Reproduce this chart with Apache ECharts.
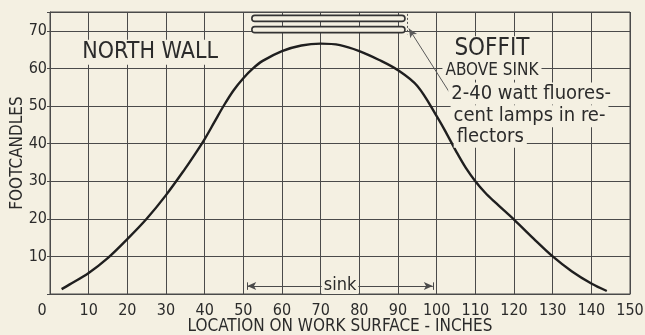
<!DOCTYPE html>
<html>
<head>
<meta charset="utf-8">
<script src="https://cdn.jsdelivr.net/npm/echarts@6/dist/echarts.min.js"></script>
<style>
  html, body { margin: 0; padding: 0; background: #f4f0e2; }
  #chart { width: 645px; height: 335px; }
</style>
</head>
<body>
<div id="chart"></div>
<script>
// Illumination along the work surface (inches from the north wall)
const positions = [3, 5, 10, 15, 20, 25, 30, 35, 37.5, 40, 42.5, 45, 47.5, 50, 52.5, 55, 60, 65, 70, 75, 80, 85, 90, 95, 100, 102.5, 105, 107.5, 110, 112.5, 115, 120, 125, 130, 135, 140, 144];
const footcandles = [1.3, 2.5, 5.6, 9.6, 14.6, 20, 26.3, 33.4, 37.2, 41.2, 45.7, 50.2, 54.2, 57.4, 60, 62, 64.6, 66.1, 66.6, 66.2, 64.6, 62.3, 59.5, 55.3, 47.3, 42.8, 38, 33.6, 30, 27, 24.5, 19.8, 14.8, 10, 6, 2.8, 0.8];

// Axis ranges and tick step
const xRange = [0, 150];
const yRange = [0, 75];
const tickStep = 10;

// Sink extent (inches) and the two lamp tubes (start, end, height on the footcandle scale)
const sinkSpan = [51, 99];
const sinkLevel = 2.1;
const lampStart = [52.2, 52.2];
const lampEnd = [91.8, 91.8];
const lampLevel = [73.3, 70.3];

// Text notes placed in data coordinates
const noteTexts = ['NORTH WALL', 'SOFFIT', 'ABOVE SINK', '2-40 watt fluores-', 'cent lamps in re-', 'flectors'];
const noteX = [25.9, 114.3, 114.3, 103.0, 103.6, 104.4];
const noteY = [64.3, 65.1, 59.5, 53.3, 47.3, 41.8];
const noteSize = [23, 24, 17, 20, 20, 20];
const noteAlign = ['center', 'center', 'center', 'left', 'left', 'left'];

// Leader from the lamp text to the lamp end
const leaderFrom = [104, 52.5];
const leaderTo = [92.8, 70.6];

const PAPER = '#f4f0e2';
const INK = '#2b2b2b';
const GRID = '#4a4a4a';
const FONT = "'DejaVu Sans Condensed', 'Liberation Sans Narrow', sans-serif";

const chart = echarts.init(document.getElementById('chart'), null, { renderer: 'canvas' });

const curveData = positions.map((x, i) => [x, footcandles[i]]);
const lampData = lampLevel.map((y, i) => [lampStart[i], lampEnd[i], y]);

chart.setOption({
  backgroundColor: PAPER,
  animation: false,
  grid: {
    left: 50, right: 15, top: 12, bottom: 41,
    outerBoundsMode: 'none',
    containLabel: false,
    show: true, borderColor: GRID, borderWidth: 1, backgroundColor: 'transparent'
  },
  xAxis: {
    type: 'value',
    min: xRange[0], max: xRange[1], interval: tickStep,
    name: 'LOCATION ON WORK SURFACE - INCHES',
    nameLocation: 'middle', nameGap: 24, nameMoveOverlap: false,
    nameTextStyle: { fontFamily: FONT, fontSize: 17, color: INK },
    axisLine: { show: true, lineStyle: { color: GRID, width: 1 } },
    axisTick: { show: false },
    splitLine: { show: true, lineStyle: { color: GRID, width: 1 } },
    axisLabel: {
      fontFamily: FONT, fontSize: 16, color: INK, margin: 9,
      formatter: v => v === 0 ? '{z|0}' : (v === 150 ? '{e|150}' : String(v)),
      rich: {
        z: { fontFamily: FONT, fontSize: 16, color: INK, padding: [0, 16, 0, 0] },
        e: { fontFamily: FONT, fontSize: 16, color: INK, padding: [0, 0, 6, 0] }
      }
    }
  },
  yAxis: {
    type: 'value',
    min: yRange[0], max: yRange[1], interval: tickStep,
    name: 'FOOTCANDLES',
    nameLocation: 'middle', nameGap: 24, nameMoveOverlap: false,
    nameTextStyle: { fontFamily: FONT, fontSize: 17, color: INK },
    axisLine: { show: true, lineStyle: { color: GRID, width: 1 } },
    axisTick: { show: true, length: 3, lineStyle: { color: GRID } },
    splitLine: { show: true, lineStyle: { color: GRID, width: 1 } },
    axisLabel: {
      fontFamily: FONT, fontSize: 16, color: INK, margin: 3,
      formatter: v => (v === 0 || v === yRange[1] ? '' : String(v))
    }
  },
  series: [
    {
      type: 'line',
      name: 'Footcandles',
      data: curveData,
      smooth: 0.35,
      showSymbol: false,
      lineStyle: { color: '#1f1f1f', width: 2.4 },
      z: 4,
      markLine: {
        silent: true,
        animation: false,
        symbolSize: [6, 9],
        data: [
          [
            { coord: [sinkSpan[0], sinkLevel], symbol: 'arrow',
              lineStyle: { color: GRID, width: 1, type: 'solid' },
              label: { show: true, position: 'middle', formatter: 'sink',
                       fontFamily: FONT, fontSize: 18, color: INK,
                       backgroundColor: PAPER, padding: [0, 2, 0, 2], offset: [0, 13] } },
            { coord: [sinkSpan[1], sinkLevel], symbol: 'arrow' }
          ],
          [
            { coord: [sinkSpan[0], sinkLevel - 1], symbol: 'none', lineStyle: { color: GRID, width: 1, type: 'solid' }, label: { show: false } },
            { coord: [sinkSpan[0], sinkLevel + 1], symbol: 'none' }
          ],
          [
            { coord: [sinkSpan[1], sinkLevel - 1], symbol: 'none', lineStyle: { color: GRID, width: 1, type: 'solid' }, label: { show: false } },
            { coord: [sinkSpan[1], sinkLevel + 1], symbol: 'none' }
          ],
          [
            { coord: leaderFrom, symbol: 'none', lineStyle: { color: '#5a5a5a', width: 1, type: 'solid' }, label: { show: false } },
            { coord: leaderTo, symbol: 'arrow' }
          ],
          [
            { coord: [lampEnd[0] + 0.6, lampLevel[0] + 1.2], symbol: 'none', lineStyle: { color: '#555', width: 1, type: [2, 2] }, label: { show: false } },
            { coord: [lampEnd[0] + 0.6, lampLevel[1] - 1.2], symbol: 'none' }
          ]
        ]
      }
    },
    {
      // Fluorescent tubes in the soffit
      type: 'custom',
      name: 'Lamps',
      z: 5,
      data: lampData,
      renderItem: function (params, api) {
        const a = api.coord([api.value(0), api.value(2)]);
        const b = api.coord([api.value(1), api.value(2)]);
        const h = 6;
        return {
          type: 'rect',
          shape: { x: a[0], y: a[1] - h / 2, width: b[0] - a[0], height: h, r: h / 2 },
          style: { fill: PAPER, stroke: '#333', lineWidth: 1.6 }
        };
      }
    }
  ]
});

// Text notes, positioned from data coordinates
const notes = noteTexts.map((t, i) => {
  const p = chart.convertToPixel({ gridIndex: 0 }, [noteX[i], noteY[i]]);
  return {
    type: 'text',
    x: p[0], y: p[1], z: 50,
    style: {
      text: t,
      font: noteSize[i] + 'px ' + FONT,
      fill: INK,
      align: noteAlign[i],
      verticalAlign: 'middle',
      backgroundColor: PAPER,
      padding: [1, 3, 1, 3]
    }
  };
});
chart.setOption({ graphic: notes });
</script>
</body>
</html>
